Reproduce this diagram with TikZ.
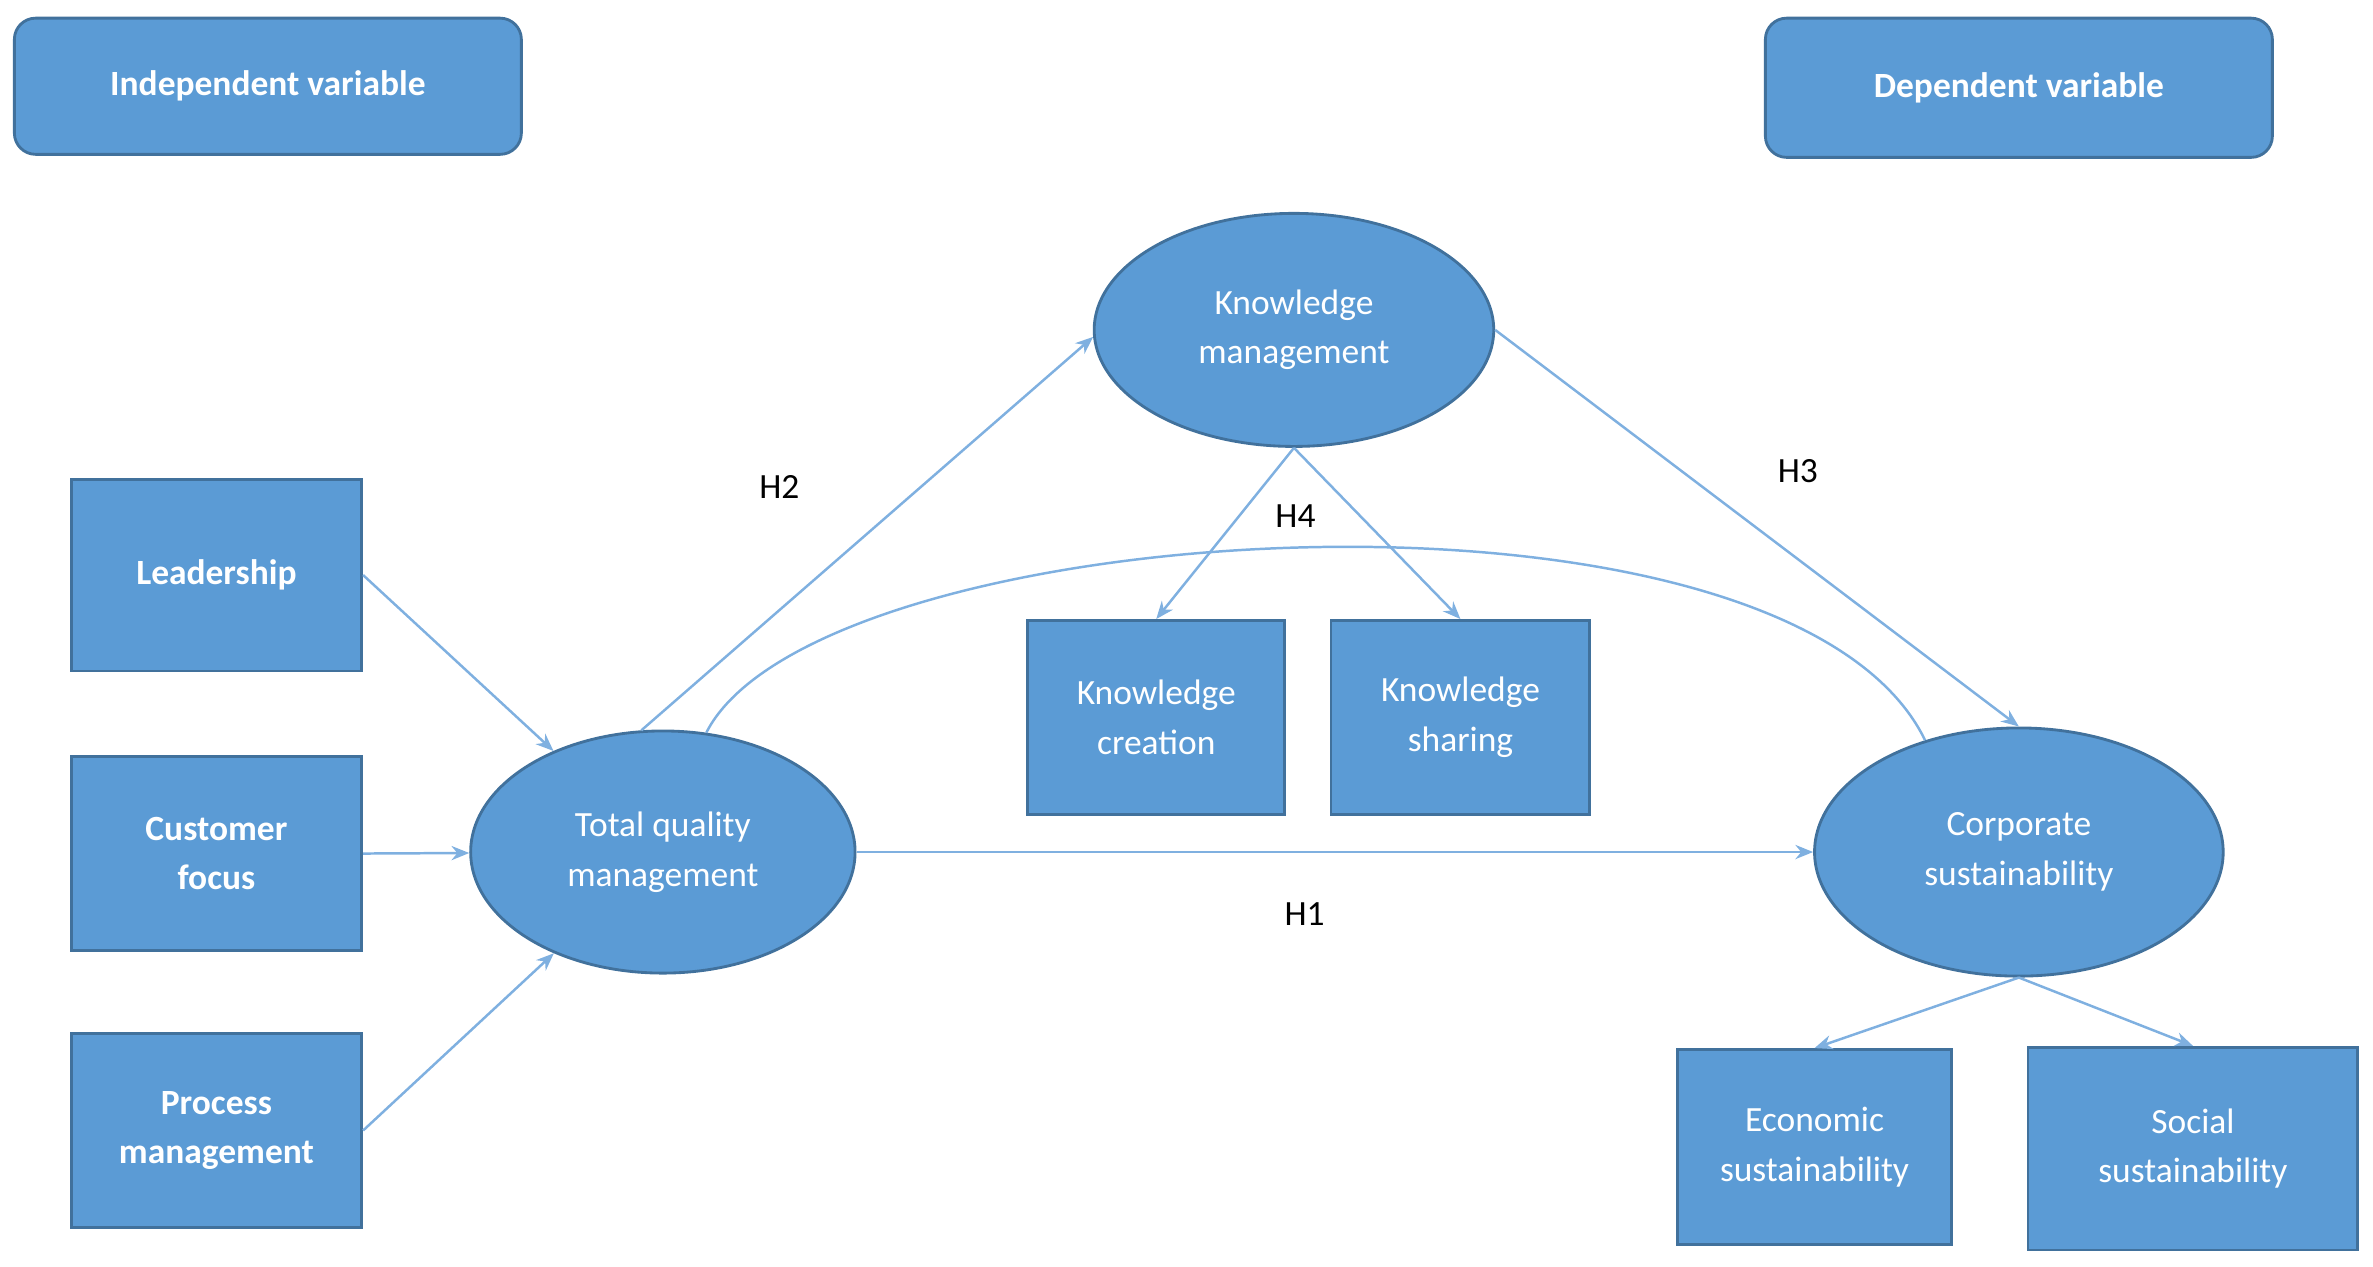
\documentclass[tikz,border=0pt]{standalone}
\usepackage{fontspec}
\setmainfont{Carlito}
\usetikzlibrary{shapes.geometric,arrows.meta}
\definecolor{fillb}{HTML}{5B9BD5}
\definecolor{edgeb}{HTML}{41719C}
\definecolor{arrb}{HTML}{7FB0E0}
\begin{document}
\begin{tikzpicture}[x=0.015cm,y=-0.015cm,
 box/.style={draw=edgeb,line width=0.8pt,fill=fillb,text=white,align=center,font=\fontsize{10}{14}\selectfont},
 bbox/.style={box,font=\bfseries\fontsize{10}{14}\selectfont},
 ell/.style={box,ellipse,inner sep=0pt},
 arr/.style={draw=arrb,line width=0.7pt,-{Stealth[length=5pt,width=4pt]}},
 lab/.style={font=\fontsize{10}{12}\selectfont}]
\useasboundingbox (0,0) rectangle (1568,837);
\node[bbox,rounded corners=6pt,minimum width=5.025cm,minimum height=1.35cm] (iv) at (177,57) {Independent variable};
\node[bbox,rounded corners=6pt,minimum width=5.025cm,minimum height=1.38cm] (dv) at (1334,58) {Dependent variable};
\node[bbox,minimum width=2.88cm,minimum height=1.9cm] (lead) at (143,380) {Leadership};
\node[bbox,minimum width=2.88cm,minimum height=1.92cm] (cf) at (143,564) {Customer\\focus};
\node[bbox,minimum width=2.88cm,minimum height=1.92cm] (pm) at (143,747) {Process\\management};
\node[ell,minimum width=3.81cm,minimum height=2.4cm] (tqm) at (438,563) {Total quality\\management};
\node[ell,minimum width=3.96cm,minimum height=2.31cm] (km) at (855,218) {Knowledge\\management};
\node[box,minimum width=2.55cm,minimum height=1.92cm] (kc) at (764,474) {Knowledge\\creation};
\node[box,minimum width=2.565cm,minimum height=1.92cm] (ks) at (965,474) {Knowledge\\sharing};
\node[ell,minimum width=4.05cm,minimum height=2.46cm] (cs) at (1334,563) {Corporate\\sustainability};
\node[box,minimum width=2.715cm,minimum height=1.935cm] (es) at (1199,758) {Economic\\sustainability};
\node[box,minimum width=3.27cm,minimum height=2.01cm] (ss) at (1449,759) {Social\\sustainability};
\node[lab] (h2) at (515,322) {H2};
\node[lab] (h4) at (856,341) {H4};
\node[lab] (h3) at (1188,311) {H3};
\node[lab] (h1) at (862,604) {H1};
\draw[arr] (lead.east) -- (tqm);
\draw[arr] (cf.east) -- (tqm);
\draw[arr] (pm.east) -- (tqm);
\draw[arr] (tqm.100) -- (km.182);
\draw[arr] (km.south) -- (kc.north);
\draw[arr] (km.south) -- (ks.north);
\draw[arr] (km.east) -- (cs.north);
\draw[arr] (tqm.east) -- (cs.west);
\draw[arr] (cs.south) -- (es.north);
\draw[arr] (cs.south) -- (ss.north);
\draw[draw=arrb,line width=0.7pt] (tqm.70) .. controls (540,340) and (1180,300) .. (cs.130);
\end{tikzpicture}
\end{document}
